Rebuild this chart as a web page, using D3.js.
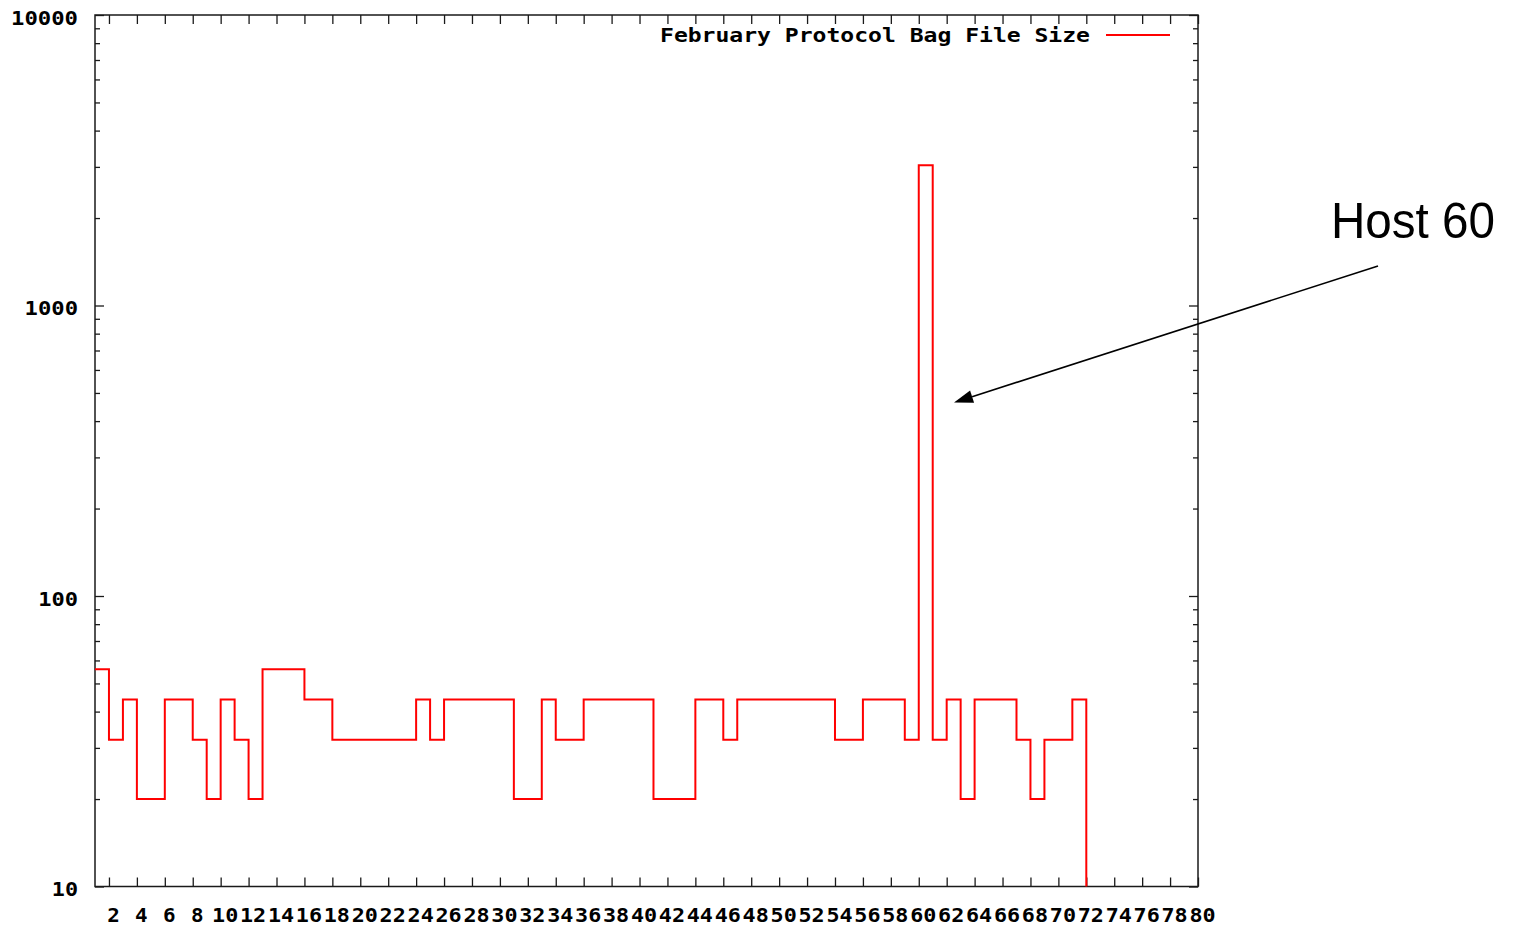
<!DOCTYPE html>
<html>
<head>
<meta charset="utf-8">
<script src="https://cdn.jsdelivr.net/npm/d3@7"></script>
<style>
  html, body { margin: 0; padding: 0; background: #fff; }
  svg { display: block; }
  .tick-label { font-family: "DejaVu Sans Mono", "Liberation Mono", monospace; font-weight: bold; font-size: 20px; fill: #000; }
</style>
</head>
<body>
<svg id="chart" width="1515" height="927"></svg>
<script>
// Host index along the x axis (hosts 1..72)
const hosts = d3.range(1, 73);

// Bag file size per host (log scale); host 72 has no file (0)
const fileSizes = [
  56, 32, 44, 20, 20, 44, 44, 32, 20, 44,
  32, 20, 56, 56, 56, 44, 44, 32, 32, 32,
  32, 32, 32, 44, 32, 44, 44, 44, 44, 44,
  20, 20, 44, 32, 32, 44, 44, 44, 44, 44,
  20, 20, 20, 44, 44, 32, 44, 44, 44, 44,
  44, 44, 44, 32, 32, 44, 44, 44, 32, 3040,
  32, 44, 20, 44, 44, 44, 32, 20, 32, 32,
  44, 0
];

const seriesName = "February Protocol Bag File Size";
const xTickValues = d3.range(2, 81, 2);
const yTickValues = [10, 100, 1000, 10000];
const yTickLabels = ["10", "100", "1000", "10000"];
const yMinorTicks = [];
[10, 100, 1000].forEach(dec => { for (let m = 2; m <= 9; m++) yMinorTicks.push(dec * m); });

const annotationText = "Host 60";

// Plot frame
const plotLeft = 95, plotRight = 1198, plotTop = 15, plotBottom = 886.5;
const charW = 13.6;

const svg = d3.select("#chart");

const x = d3.scaleLinear().domain([1, 80]).range([plotLeft, plotRight]);
const y = d3.scaleLog().domain([10, 10000]).range([plotBottom, plotTop]);

const axisColor = "#1a1a1a";

function styleAxis(g) {
  g.select(".domain").remove();
  g.selectAll(".tick line").attr("stroke", axisColor).attr("stroke-width", 1.3);
}

// Bottom axis: inward ticks and labels
const gx = svg.append("g")
  .attr("transform", `translate(0,${plotBottom})`)
  .call(d3.axisBottom(x).tickValues(xTickValues).tickSize(-9).tickSizeOuter(0).tickFormat(d3.format("d")));
styleAxis(gx);
gx.selectAll("text")
  .attr("class", "tick-label")
  .attr("y", 35).attr("dy", null).attr("dx", 4)
  .attr("textLength", function () { return this.textContent.length * charW - 1; })
  .attr("lengthAdjust", "spacingAndGlyphs");
gx.attr("font-family", null).attr("font-size", null);

// Top axis (mirrored ticks, no labels)
const gxt = svg.append("g")
  .attr("transform", `translate(0,${plotTop})`)
  .call(d3.axisTop(x).tickValues(xTickValues).tickSize(-9).tickSizeOuter(0).tickFormat(""));
styleAxis(gxt);

// Left axis: major ticks with labels
const gy = svg.append("g")
  .attr("transform", `translate(${plotLeft},0)`)
  .call(d3.axisLeft(y).tickValues(yTickValues).tickSize(-9).tickSizeOuter(0)
    .tickFormat((d, i) => yTickLabels[i]));
styleAxis(gy);
gy.selectAll("text")
  .attr("class", "tick-label")
  .attr("x", -17).attr("dy", null).attr("y", 9)
  .attr("textLength", function () { return this.textContent.length * charW - 1; })
  .attr("lengthAdjust", "spacingAndGlyphs");
gy.attr("font-family", null).attr("font-size", null);

// Left minor ticks
styleAxis(svg.append("g")
  .attr("transform", `translate(${plotLeft},0)`)
  .call(d3.axisLeft(y).tickValues(yMinorTicks).tickSize(-5).tickSizeOuter(0).tickFormat("")));

// Right axis: mirrored major and minor ticks
styleAxis(svg.append("g")
  .attr("transform", `translate(${plotRight},0)`)
  .call(d3.axisRight(y).tickValues(yTickValues).tickSize(-9).tickSizeOuter(0).tickFormat("")));
styleAxis(svg.append("g")
  .attr("transform", `translate(${plotRight},0)`)
  .call(d3.axisRight(y).tickValues(yMinorTicks).tickSize(-5).tickSizeOuter(0).tickFormat("")));

// Frame
svg.append("rect")
  .attr("x", plotLeft).attr("y", plotTop)
  .attr("width", plotRight - plotLeft).attr("height", plotBottom - plotTop)
  .attr("fill", "none").attr("stroke", axisColor).attr("stroke-width", 1.5);

// Step line of file sizes; a zero size drops to the bottom of the plot
const points = hosts.map((h, i) => [h, fileSizes[i]]);
const line = d3.line()
  .x(d => x(d[0]))
  .y(d => d[1] > 0 ? y(d[1]) : y.range()[0])
  .curve(d3.curveStepAfter);

svg.append("path")
  .datum(points)
  .attr("d", line)
  .attr("fill", "none")
  .attr("stroke", "#ff0000")
  .attr("stroke-width", 2);

// Legend
svg.append("text")
  .attr("class", "tick-label")
  .attr("x", 1090).attr("y", 42)
  .attr("text-anchor", "end")
  .attr("textLength", seriesName.length * 13.87)
  .attr("lengthAdjust", "spacingAndGlyphs")
  .text(seriesName);
svg.append("line")
  .attr("x1", 1106).attr("x2", 1170)
  .attr("y1", 35).attr("y2", 35)
  .attr("stroke", "#ff0000").attr("stroke-width", 2);

// Annotation pointing at the outlier host
const tip = [954, 402.5], tail = [1378, 266];
const ang = Math.atan2(tail[1] - tip[1], tail[0] - tip[0]);
const headLen = 19, headHalf = 6.5;
const base = [tip[0] + headLen * Math.cos(ang), tip[1] + headLen * Math.sin(ang)];
const perp = [-Math.sin(ang), Math.cos(ang)];

svg.append("line")
  .attr("x1", tail[0]).attr("y1", tail[1])
  .attr("x2", base[0]).attr("y2", base[1])
  .attr("stroke", "#000").attr("stroke-width", 1.6);
svg.append("polygon")
  .attr("points", [
    tip,
    [base[0] + perp[0] * headHalf, base[1] + perp[1] * headHalf],
    [base[0] - perp[0] * headHalf, base[1] - perp[1] * headHalf]
  ].map(p => p.join(",")).join(" "))
  .attr("fill", "#000");

svg.append("text")
  .attr("x", 1331).attr("y", 238)
  .attr("font-family", "'Liberation Sans', Arial, sans-serif")
  .attr("font-size", 50)
  .attr("textLength", 164)
  .attr("lengthAdjust", "spacingAndGlyphs")
  .attr("fill", "#000")
  .text(annotationText);
</script>
</body>
</html>
